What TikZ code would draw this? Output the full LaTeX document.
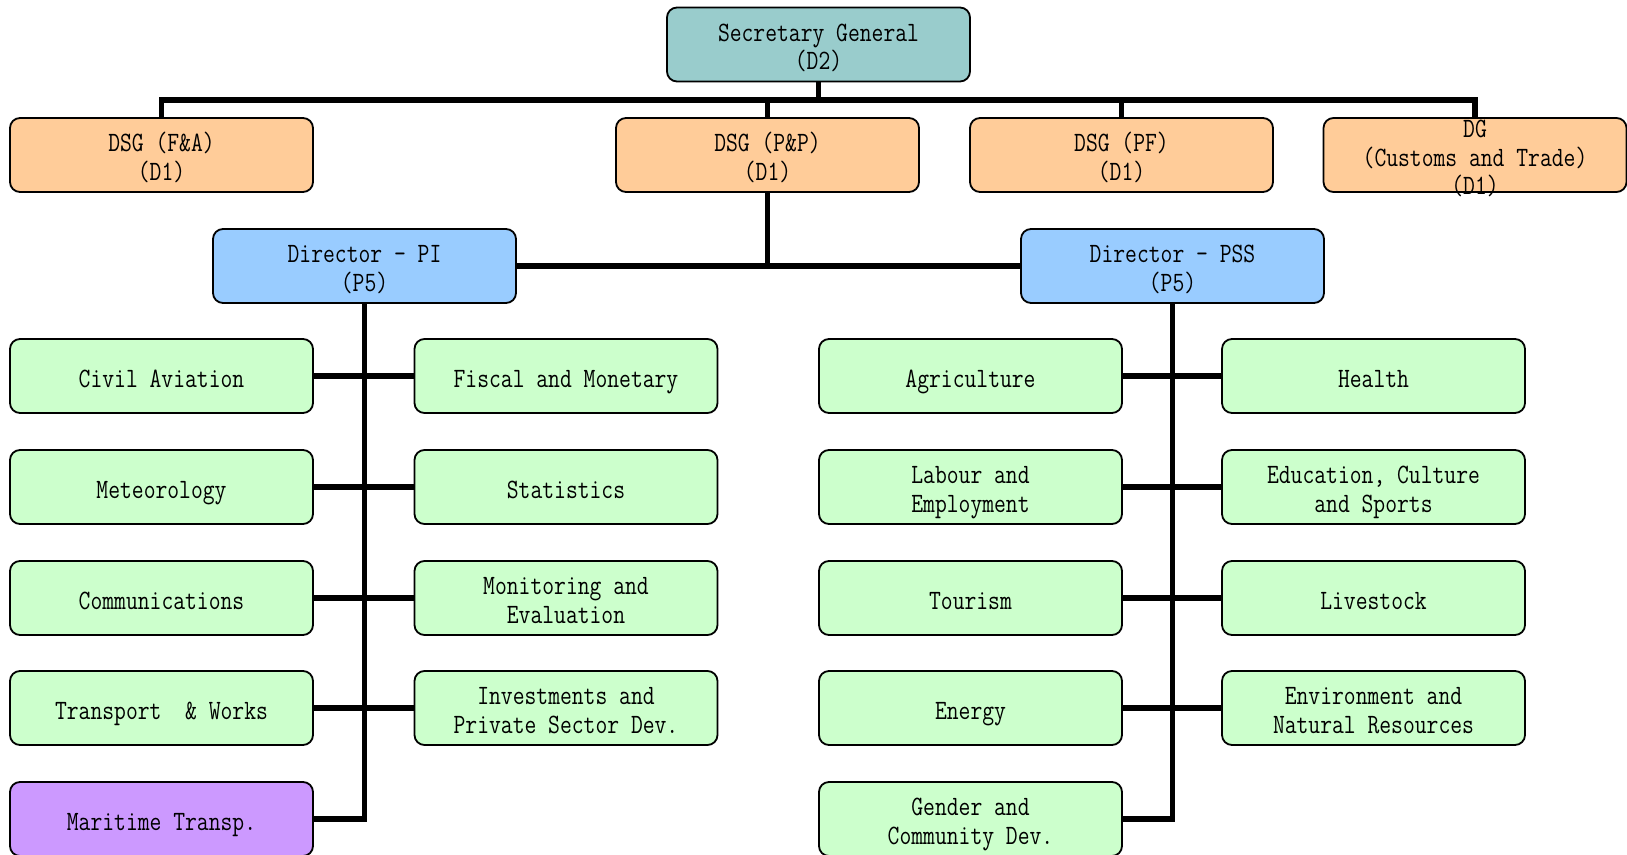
\documentclass[tikz,border=0pt]{standalone}
\usepackage{fontspec}
\usetikzlibrary{backgrounds}
\newfontfamily\boxfont[FakeStretch=0.82]{Latin Modern Mono}
\newcommand\firstln{\rule{0pt}{31pt}}
\definecolor{sgcol}{HTML}{99CCCC}
\definecolor{dsgcol}{HTML}{FFCC99}
\definecolor{dircol}{HTML}{99CCFF}
\definecolor{unitcol}{HTML}{CCFFCC}
\definecolor{purpcol}{HTML}{CC99FF}
\tikzset{
  boxtext/.style={align=center, font=\boxfont\fontsize{28}{28.5}\selectfont,
    execute at begin node={\firstln}, execute at end node={\strut}},
  orgbox/.style={draw=black, line width=1.8pt, rounded corners=10pt, rectangle,
    minimum width=303pt, minimum height=74pt, inner sep=0pt, boxtext},
  sgbox/.style={orgbox, fill=sgcol},
  dsgbox/.style={orgbox, fill=dsgcol},
  dirbox/.style={orgbox, fill=dircol},
  unitbox/.style={orgbox, fill=unitcol},
  purpbox/.style={orgbox, fill=purpcol},
  link/.style={draw=black, line width=5.5pt, line join=miter}
}
\begin{document}
\begin{tikzpicture}[x=1pt, y=-1pt]
\useasboundingbox (0,0) rectangle (1627,854);
% top
\node[sgbox] (sg) at (818.5,44.5) {\firstln Secretary General\\(D2)};
\node[dsgbox] (fa) at (161.5,155) {\firstln DSG (F\&A)\\(D1)};
\node[dsgbox] (pp) at (767.5,155) {\firstln DSG (P\&P)\\(D1)};
\node[dsgbox] (pf) at (1121.5,155) {\firstln DSG (PF)\\(D1)};
\node[dsgbox, label={[boxtext, inner sep=0pt]center:{\firstln DG\\(Customs and Trade)\\(D1)}}] (dg) at (1475,155) {};
\node[dirbox] (pi) at (364.5,266) {\firstln Director – PI\\(P5)};
\node[dirbox] (pss) at (1172.5,266) {\firstln Director – PSS\\(P5)};
% left columns
\node[unitbox] (ca) at (161.5,376) {Civil Aviation};
\node[unitbox] (met) at (161.5,487) {Meteorology};
\node[unitbox] (com) at (161.5,598) {Communications};
\node[unitbox] (tw) at (161.5,708) {Transport\ \ \& Works};
\node[purpbox] (mt) at (161.5,819) {Maritime Transp.};
\node[unitbox] (fm) at (566,376) {Fiscal and Monetary};
\node[unitbox] (st) at (566,487) {Statistics};
\node[unitbox] (me) at (566,598) {\firstln Monitoring and\\Evaluation};
\node[unitbox] (inv) at (566,708) {\firstln Investments and\\Private Sector Dev.};
% right columns
\node[unitbox] (agr) at (970.5,376) {Agriculture};
\node[unitbox] (lab) at (970.5,487) {\firstln Labour and\\Employment};
\node[unitbox] (tou) at (970.5,598) {Tourism};
\node[unitbox] (ene) at (970.5,708) {Energy};
\node[unitbox] (gcd) at (970.5,819) {\firstln Gender and\\Community Dev.};
\node[unitbox] (hea) at (1373.5,376) {Health};
\node[unitbox] (edu) at (1373.5,487) {\firstln Education, Culture\\and Sports};
\node[unitbox] (liv) at (1373.5,598) {Livestock};
\node[unitbox] (env) at (1373.5,708) {\firstln Environment and\\Natural Resources};
\coordinate (bar) at (818.5,100);
\begin{scope}[on background layer]
\draw[link] (sg.south) -- (bar);
\draw[link] (fa.north) |- (bar) -| (dg.north);
\draw[link] (pp.north) -- (pp.north |- bar);
\draw[link] (pf.north) -- (pf.north |- bar);
\draw[link] (pp.south) -- (pp.south |- pi.east);
\draw[link] (pi.east) -- (pss.west);
\draw[link] (pi.south) |- (mt.east);
\draw[link] (pss.south) |- (gcd.east);
\draw[link] (ca.east) -- (fm.west);
\draw[link] (met.east) -- (st.west);
\draw[link] (com.east) -- (me.west);
\draw[link] (tw.east) -- (inv.west);
\draw[link] (agr.east) -- (hea.west);
\draw[link] (lab.east) -- (edu.west);
\draw[link] (tou.east) -- (liv.west);
\draw[link] (ene.east) -- (env.west);
\end{scope}
\end{tikzpicture}
\end{document}
